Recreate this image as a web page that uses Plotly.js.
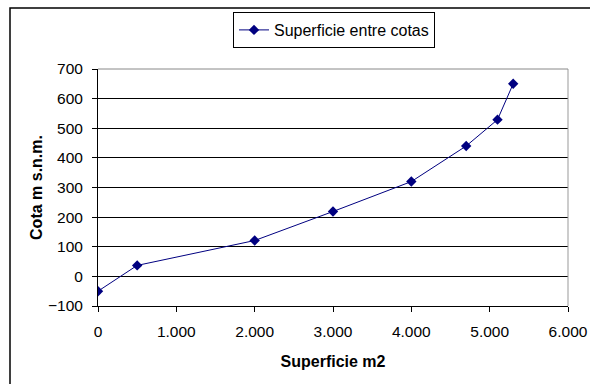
<!DOCTYPE html>
<html><head><meta charset="utf-8">
<script src="https://cdn.plot.ly/plotly-3.0.1.min.js"></script>
<style>html,body{margin:0;padding:0;background:#fff;}#chart{width:590px;height:384px;}</style>
</head><body><div id="chart"></div>
<script>
const superficie = [0, 500, 2000, 3000, 4000, 4700, 5100, 5300];
const cota = [-50, 37, 121, 219, 320, 440, 529, 650];
const seriesName = 'Superficie entre cotas';
const xTitle = 'Superficie m2';
const yTitle = 'Cota m s.n.m.';

const L = 98, R = 568, T = 69, B = 306, W = 590, H = 384;
const pw = R - L, ph = B - T;
const px = v => (v - L) / pw;
const py = v => (B - v) / ph;

const trace = {
  x: superficie, y: cota, name: seriesName, type: 'scatter', mode: 'lines+markers',
  line: {color: '#000080', width: 1},
  marker: {symbol: 'diamond', size: 8, color: '#000080'},
  showlegend: true
};

const layout = {
  width: W, height: H,
  margin: {l: L, r: W - R, t: T, b: H - B, pad: 0},
  paper_bgcolor: '#fff', plot_bgcolor: '#fff',
  separators: ',.',
  font: {family: 'Liberation Sans, Arial, sans-serif', size: 15, color: '#000'},
  showlegend: true,
  legend: {x: px(233), y: py(12), xanchor: 'left', yanchor: 'top',
    bordercolor: '#000', borderwidth: 1, bgcolor: '#fff',
    font: {size: 16}, itemwidth: 30, tracegroupgap: 0},
  xaxis: {range: [0, 6000], dtick: 1000, tickformat: ',', showgrid: false,
    zeroline: false, showline: true, linecolor: '#000', linewidth: 1,
    ticks: 'outside', ticklen: 5, tickcolor: '#000', tickfont: {size: 15.5},
    ticklabelstandoff: 6,
    title: {text: '<b>' + xTitle + '</b>', font: {size: 16}, standoff: 17}},
  yaxis: {range: [-100, 700], dtick: 100, showgrid: true, gridcolor: '#000', gridwidth: 1,
    zeroline: false, showline: true, linecolor: '#000', linewidth: 1,
    ticks: 'outside', ticklen: 5, tickcolor: '#000', tickfont: {size: 15.5},
    ticklabelstandoff: 6,
    title: {text: '<b>' + yTitle + '</b>', font: {size: 16}, standoff: 1}},
  shapes: [
    {type: 'line', xref: 'paper', yref: 'paper', x0: 1, x1: 1, y0: 0, y1: 1,
     line: {color: '#999', width: 1}},
    {type: 'line', xref: 'paper', yref: 'paper', x0: 0, x1: 1, y0: 1, y1: 1,
     line: {color: '#888', width: 1}},
    {type: 'rect', xref: 'paper', yref: 'paper', x0: px(10), x1: px(620), y0: py(420), y1: py(8),
     line: {color: '#000', width: 1.5}, fillcolor: 'rgba(0,0,0,0)', layer: 'below'}
  ]
};
Plotly.newPlot('chart', [trace], layout, {displayModeBar: false, staticPlot: true});
</script></body></html>
